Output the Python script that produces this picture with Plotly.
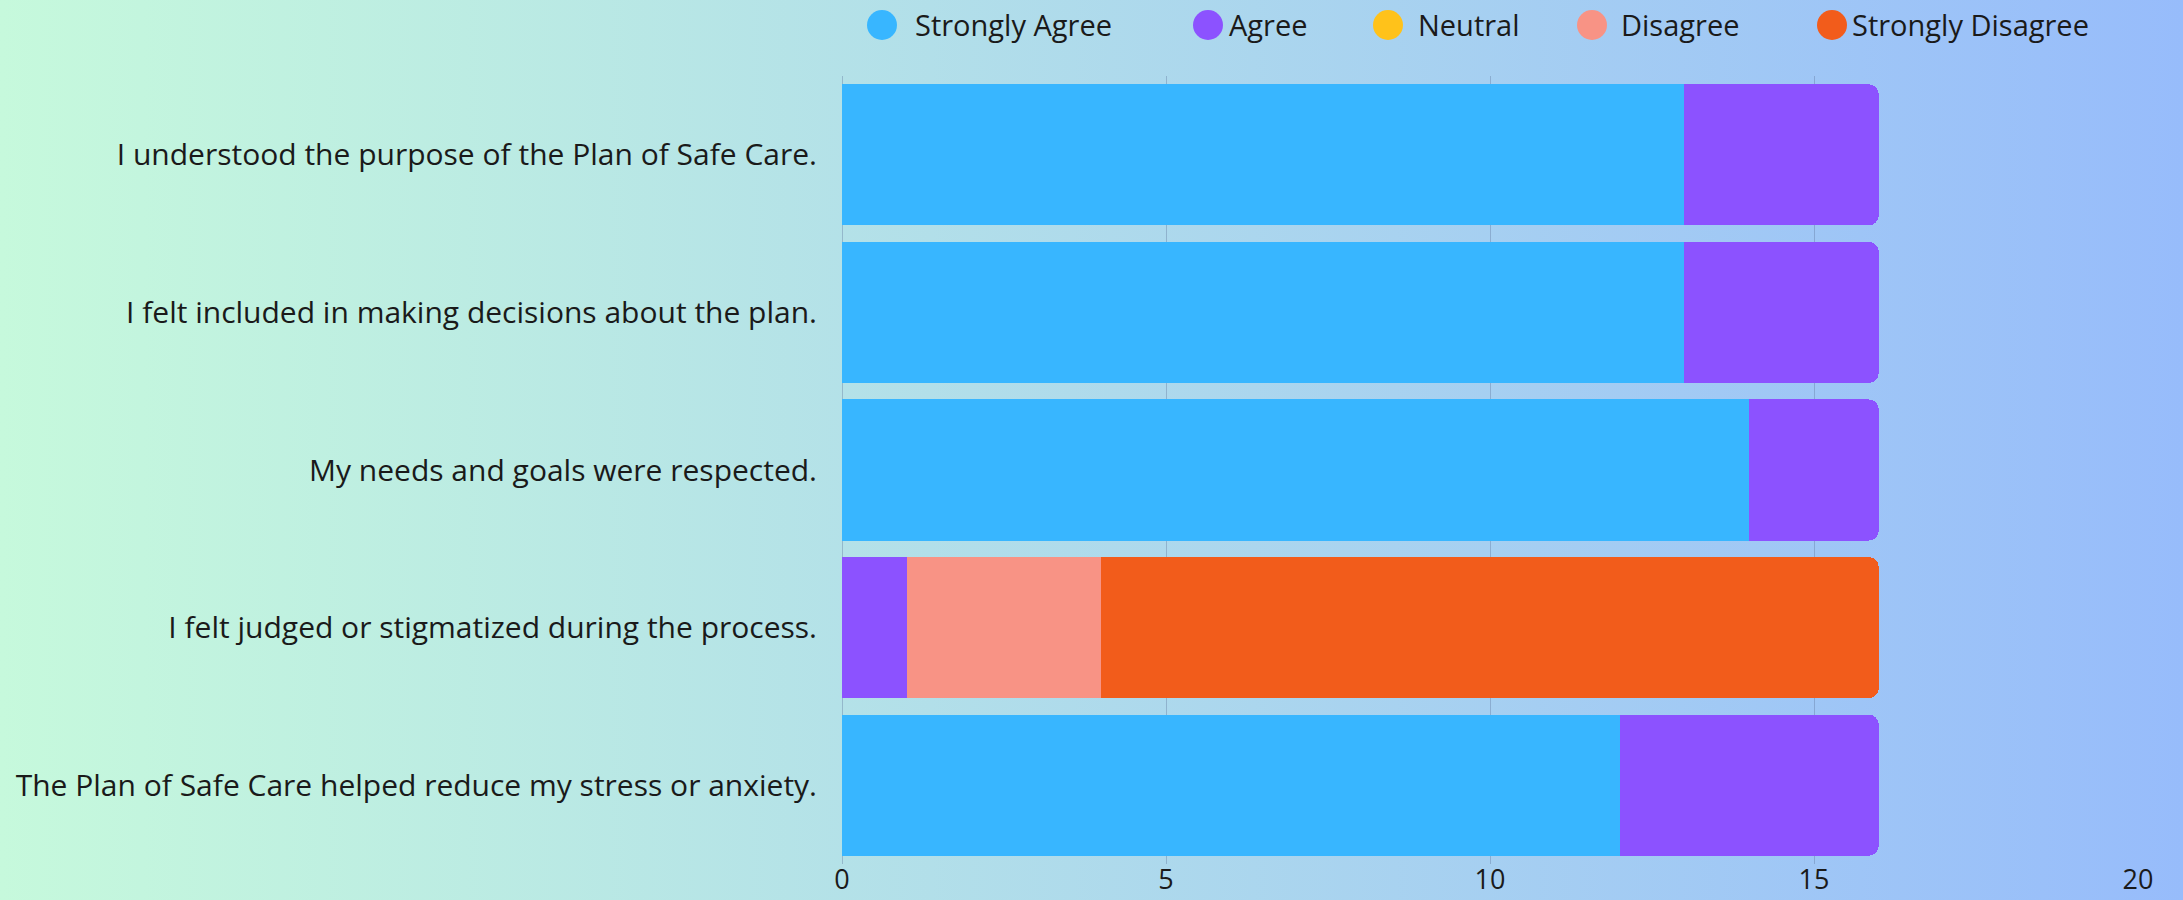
import base64
import plotly.graph_objects as go

categories = [
    "I understood the purpose of the Plan of Safe Care.",
    "I felt included in making decisions about the plan.",
    "My needs and goals were respected.",
    "I felt judged or stigmatized during the process.",
    "The Plan of Safe Care helped reduce my stress or anxiety.",
]
series_names = ["Strongly Agree", "Agree", "Neutral", "Disagree", "Strongly Disagree"]
strongly_agree = [13, 13, 14, 0, 12]
agree = [3, 3, 2, 1, 4]
neutral = [0, 0, 0, 0, 0]
disagree = [0, 0, 0, 3, 0]
strongly_disagree = [0, 0, 0, 12, 0]
x_ticks = [0, 5, 10, 15, 20]

colors = ["#38B6FF", "#8C52FF", "#FFC21A", "#F89385", "#F25C1B"]
values = [strongly_agree, agree, neutral, disagree, strongly_disagree]

W, H = 2183, 900
ML, MR, MT, MB = 842, 45, 76, 36
PW, PH = W - ML - MR, H - MT - MB

FONT = "Open Sans"
FS = 29
TXT = "#1a1a1a"


def px_x(p):
    return (p - ML) / PW


def px_y(p):
    return 1 - (p - MT) / PH


fig = go.Figure()
for name, vals, col in zip(series_names, values, colors):
    fig.add_trace(go.Bar(
        y=categories, x=vals, name=name, orientation="h",
        marker=dict(color=col, line=dict(width=0)),
        showlegend=False,
    ))

# legend: circle swatches + labels placed along the top
legend_circle_px = [882, 1208, 1388, 1592, 1832]
legend_text_px = [913, 1227, 1416, 1619, 1850]
legend_y_px = 25
LR = 15
shapes = []
annotations = []
for name, col, cx, tx in zip(series_names, colors, legend_circle_px, legend_text_px):
    shapes.append(dict(
        type="circle", xref="paper", yref="paper",
        x0=px_x(cx - LR), x1=px_x(cx + LR),
        y0=px_y(legend_y_px + LR), y1=px_y(legend_y_px - LR),
        fillcolor=col, line=dict(width=0), layer="above",
    ))
    annotations.append(dict(
        text=name, xref="paper", yref="paper",
        x=px_x(tx), y=px_y(legend_y_px), xanchor="left", yanchor="middle",
        showarrow=False, font=dict(family=FONT, size=FS, color=TXT),
    ))

svg = (
    f'<svg xmlns="http://www.w3.org/2000/svg" width="{W}" height="{H}">'
    '<defs><linearGradient id="g" x1="0" y1="0" x2="1" y2="0">'
    '<stop offset="0" stop-color="#C6F9DC"/>'
    '<stop offset="1" stop-color="#97BCFB"/>'
    '</linearGradient></defs>'
    f'<rect width="{W}" height="{H}" fill="url(#g)"/></svg>'
)
src = "data:image/svg+xml;base64," + base64.b64encode(svg.encode()).decode()

fig.update_layout(
    width=W, height=H,
    margin=dict(l=ML, r=MR, t=MT, b=MB, pad=0, autoexpand=False),
    barmode="stack",
    bargap=0.105,
    barcornerradius=10,
    paper_bgcolor="#B3DDE9",
    plot_bgcolor="rgba(0,0,0,0)",
    font=dict(family=FONT, size=FS, color=TXT),
    images=[dict(
        source=src, xref="paper", yref="paper",
        x=-ML / PW, y=1 + MT / PH, sizex=W / PW, sizey=H / PH,
        xanchor="left", yanchor="top", sizing="stretch", layer="below",
    )],
    shapes=shapes,
    annotations=annotations,
    showlegend=False,
    xaxis=dict(
        range=[0, 20], tickvals=x_ticks, showgrid=True, automargin=False,
        gridcolor="rgba(90,110,150,0.35)", gridwidth=1,
        zeroline=True, zerolinecolor="rgba(90,110,150,0.35)", zerolinewidth=1,
        showline=False, ticks="", ticklabelstandoff=-3,
        tickfont=dict(family=FONT, size=27, color=TXT),
        fixedrange=True,
    ),
    yaxis=dict(
        categoryorder="array", categoryarray=categories, autorange="reversed",
        showgrid=False, zeroline=False, showline=False, ticks="", automargin=False,
        ticklabelstandoff=24, tickfont=dict(family=FONT, size=30, color=TXT),
        fixedrange=True,
    ),
)

fig.write_html(
    "out.html",
    config=dict(displayModeBar=False),
    post_script="document.body.style.margin='0';document.body.style.overflow='hidden';",
)
